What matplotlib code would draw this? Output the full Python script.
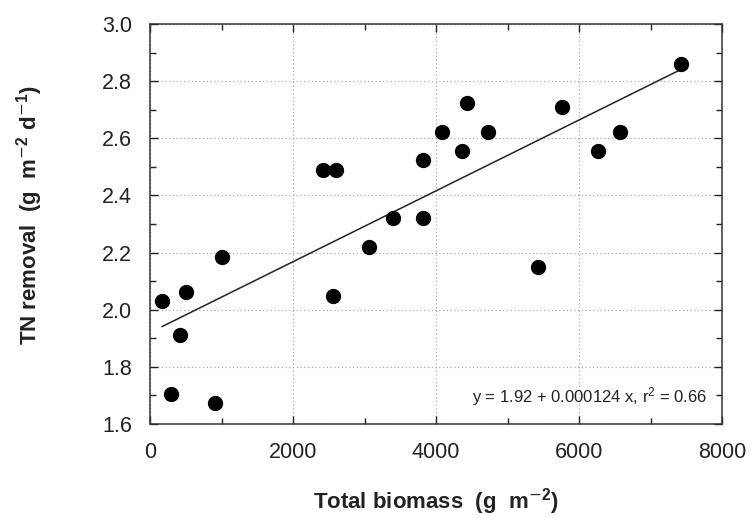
import matplotlib
matplotlib.use("Agg")
import matplotlib.pyplot as plt
import numpy as np
from matplotlib.ticker import MultipleLocator

plt.rcParams['font.family'] = ['Liberation Sans', 'DejaVu Sans']
plt.rcParams['mathtext.default'] = 'regular'

biomass = [170, 300, 424, 499, 909, 1002, 2413, 2608, 2564, 3063, 3394, 3822,
           3813, 4077, 4357, 4437, 4734, 5431, 5757, 6261, 6573, 7422]
tn_removal = [2.03, 1.705, 1.91, 2.063, 1.672, 2.183, 2.489, 2.489, 2.048, 2.221,
              2.322, 2.322, 2.523, 2.623, 2.555, 2.725, 2.623, 2.151, 2.711,
              2.555, 2.623, 2.86]
intercept = 1.92
slope = 0.000124

fig = plt.figure(figsize=(7.51, 5.18), dpi=100)
ax = fig.add_axes([150/751, 1-424/518, (722-150)/751, (424-24)/518])

ax.plot(biomass, tn_removal, 'o', color='black', markersize=10, zorder=3)
xf = np.array([min(biomass), max(biomass)])
ax.plot(xf, intercept + slope*xf, color='#222222', linewidth=1.1, zorder=2)

ax.set_xlim(0, 8000)
ax.set_ylim(1.6, 3.0)
ax.xaxis.set_major_locator(MultipleLocator(2000))
ax.xaxis.set_minor_locator(MultipleLocator(1000))
ax.yaxis.set_major_locator(MultipleLocator(0.2))
ax.yaxis.set_minor_locator(MultipleLocator(0.1))
ax.yaxis.set_major_formatter(matplotlib.ticker.FormatStrFormatter('%.1f'))
ax.tick_params(which='both', direction='in', top=True, right=True, colors='#222222')
ax.tick_params(which='major', length=6, width=1, labelsize=15.5, labelcolor='#222222')
ax.tick_params(axis='x', which='major', pad=13)
ax.tick_params(axis='y', which='major', pad=13)
ax.tick_params(which='minor', length=4, width=1)
ax.grid(True, which='major', linestyle=(0, (1, 2)), color='#aaaaaa', linewidth=0.9)
for s in ax.spines.values():
    s.set_linewidth(1.1)
    s.set_color('#333333')

ax.text(7790, 1.695, 'y = 1.92 + 0.000124 x, r$^2$ = 0.66', ha='right', va='center',
        fontsize=12, color='#222222')

fig.text(436/751, 1-502/518, 'Total biomass  (g  m$^{\\mathrm{-}2}$)', ha='center', va='center',
         fontsize=16, fontweight='bold', color='#222222')
fig.text(30/751, 1-215/518, 'TN removal  (g  m$^{\\mathrm{-}2}$ d$^{\\mathrm{-}1}$)', ha='center', va='center',
         rotation=90, fontsize=16, fontweight='bold', color='#222222')

fig.savefig('out.png', dpi=100)
